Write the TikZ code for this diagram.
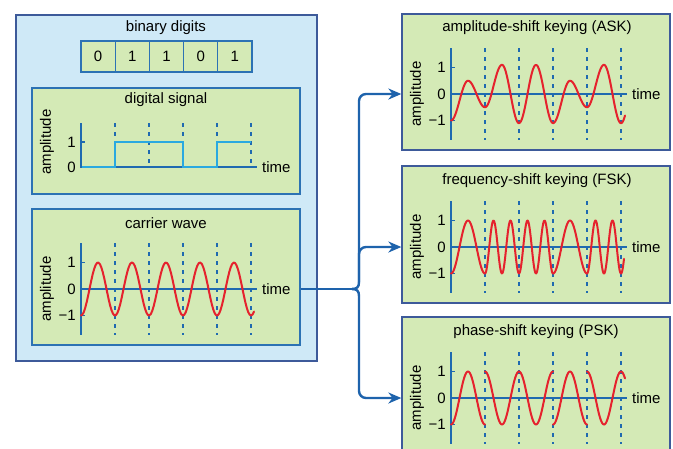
\documentclass[tikz,border=0pt]{standalone}
\usepackage{fontspec}
\setmainfont{Liberation Sans}
\usetikzlibrary{arrows.meta}
\definecolor{gfill}{HTML}{D4EAB6}
\definecolor{bfill}{HTML}{CFE9F7}
\definecolor{navy}{HTML}{3D5A9A}
\definecolor{bline}{HTML}{2C72B4}
\definecolor{axc}{HTML}{1F6AB0}
\definecolor{wred}{HTML}{E5222D}
\definecolor{cyanc}{HTML}{2AA9E0}
\definecolor{connc}{HTML}{1E63AC}
\tikzset{
 txt/.style={font=\fontsize{15}{18}\selectfont, inner sep=0pt},
 outerbox/.style={draw=navy, fill=bfill, line width=1.3pt, inner sep=0pt},
 gbox/.style={draw=bline, fill=gfill, line width=1.3pt, inner sep=0pt, minimum width=268pt},
 rbox/.style={draw=navy, fill=gfill, line width=1.3pt, inner sep=0pt, minimum width=268pt},
 cell/.style={draw=bline, fill=gfill, line width=1.3pt, minimum width=34.2pt, minimum height=31pt, inner sep=0pt, font=\fontsize{15}{18}\selectfont},
 axisl/.style={draw=axc, line width=1.8pt},
 zline/.style={draw=axc, line width=1.3pt},
 tickl/.style={draw=axc, line width=1.3pt},
 dsh/.style={draw=axc, line width=1.5pt, dash pattern=on 4pt off 5pt},
 wave/.style={draw=wred, line width=2pt, line join=round, line cap=round},
 sig/.style={draw=cyanc, line width=2pt},
 conn/.style={draw=connc, line width=2.4pt},
 arr/.style={conn, -{Stealth[length=13pt,width=11pt]}},
}
% #1 x0, #2 zero y, #3 prefix
\newcommand\gframe[3]{%
 \foreach \k in {1,...,5} \draw[dsh] ({#1+34*\k},{#2-46}) -- ({#1+34*\k},{#2+46});
 \draw[zline] (#1,#2) -- ({#1+176},#2);
 \draw[axisl] (#1,{#2-46}) -- (#1,{#2+46});
 \draw[tickl] (#1,{#2-26.5}) -- ({#1+4},{#2-26.5}) (#1,{#2+26.5}) -- ({#1+4},{#2+26.5});
 \node[txt,anchor=east] (#3-p) at ({#1-5},{#2-26.5}) {1};
 \node[txt,anchor=east] (#3-z) at ({#1-5},#2) {0};
 \node[txt,anchor=east] (#3-m) at ({#1-5},{#2+26.5}) {−1};
 \node[txt,rotate=90] (#3-a) at ({#1-34},#2) {amplitude};
 \node[txt,anchor=west] (#3-t) at ({#1+181},#2) {time};
}
% local segment: v = m - h cos
\newcommand\wseg[6]{\draw[wave] plot[domain=#5:#6,samples=30] ({#1+\x},{#2-26.5*(#3-(#4)*cos(360*(\x/34)))});}
% global: v = amp cos(freq)
\newcommand\wv[6]{\draw[wave] plot[domain=#5:#6,samples=120] ({#1+\x},{#2-26.5*(#3)*cos(360*(#4)*(\x/34))});}
\begin{document}
\begin{tikzpicture}[x=1pt,y=-1pt]
\useasboundingbox (0,0) rectangle (673,448);
\clip (0,0) rectangle (673,448);
% left container
\node[outerbox, minimum width=301pt, minimum height=346pt] (outer) at (166.5,188) {};
\node[txt] (bdt) at (166,28) {binary digits};
\foreach \d [count=\i from 0] in {0,1,1,0,1}
  \node[cell] (b\i) at ({81+34.2*(\i+0.5)},56.5) {\d};
% digital signal
\node[gbox, minimum height=106pt] (dig) at (166,141) {};
\node[txt] (digt) at (166,100) {digital signal};
\foreach \k in {1,...,5} \draw[dsh] ({81+34*\k},123) -- ({81+34*\k},167);
\draw[zline] (81,167) -- (257,167);
\draw[axisl] (81,123) -- (81,168);
\draw[tickl] (81,142) -- (85,142);
\node[txt,anchor=east] (dig-p) at (76,142) {1};
\node[txt,anchor=east] (dig-z) at (76,167) {0};
\node[txt,rotate=90] (dig-a) at (47,142) {amplitude};
\node[txt,anchor=west] (dig-t) at (262,167) {time};
\draw[sig] (82,167) -- (115,167) -- (115,142) -- (183,142) -- (183,167) -- (217,167) -- (217,142) -- (251,142);
% carrier wave
\node[gbox, minimum height=136pt] (car) at (166,277) {};
\node[txt] (cart) at (166,223) {carrier wave};
\gframe{81}{289}{car}
\wv{81}{289}{-1}{1}{0}{173}
\coordinate (cz) at (81,289);
% ASK
\node[rbox, minimum height=136pt] (ask) at (536,82) {};
\node[txt] (askt) at (537,28) {amplitude-shift keying (ASK)};
\gframe{451}{94}{ask}
\coordinate (askz) at (451,94);
\wseg{451}{94}{-0.25}{0.75}{0}{17}
\wseg{451}{94}{0}{0.5}{17}{34}
\wseg{485}{94}{0.3}{0.8}{0}{17}
\wseg{485}{94}{0}{1.1}{17}{34}
\wseg{519}{94}{0}{1.1}{0}{34}
\wseg{553}{94}{-0.3}{0.8}{0}{17}
\wseg{553}{94}{0}{0.5}{17}{34}
\wseg{587}{94}{0.3}{0.8}{0}{17}
\wseg{587}{94}{0}{1.1}{17}{38}
% FSK
\node[rbox, minimum height=137pt] (fsk) at (536,234.5) {};
\node[txt] (fskt) at (537,181) {frequency-shift keying (FSK)};
\gframe{451}{247}{fsk}
\coordinate (fskz) at (451,247);
\wv{451}{247}{-1}{1}{0}{34}
\wv{451}{247}{-1}{2}{34}{102}
\wv{451}{247}{-1}{1}{102}{136}
\wv{451}{247}{-1}{2}{136}{173}
% PSK
\node[rbox, minimum height=160pt] (psk) at (536,397) {};
\node[txt] (pskt) at (536,332) {phase-shift keying (PSK)};
\gframe{451}{398}{psk}
\coordinate (pskz) at (451,398);
\wv{451}{398}{-1}{1}{0}{34}
\wv{451}{398}{1}{1}{34}{102}
\wv{451}{398}{-1}{1}{102}{136}
\wv{451}{398}{1}{1}{136}{174}
% connectors
\coordinate (jn) at (352,289);
\coordinate (brU) at (359,282);
\coordinate (brD) at (359,296);
\draw[conn] (car.east |- cz) -- (jn);
\draw[conn] (jn) .. controls (357,289) and (359,287) .. (brU);
\draw[conn] (jn) .. controls (357,289) and (359,291) .. (brD);
\draw[arr, rounded corners=7pt] (brU) |- (ask.west |- askz);
\draw[arr, rounded corners=7pt] (brU) |- (fsk.west |- fskz);
\draw[arr, rounded corners=7pt] (brD) |- (psk.west |- pskz);
\end{tikzpicture}
\end{document}
